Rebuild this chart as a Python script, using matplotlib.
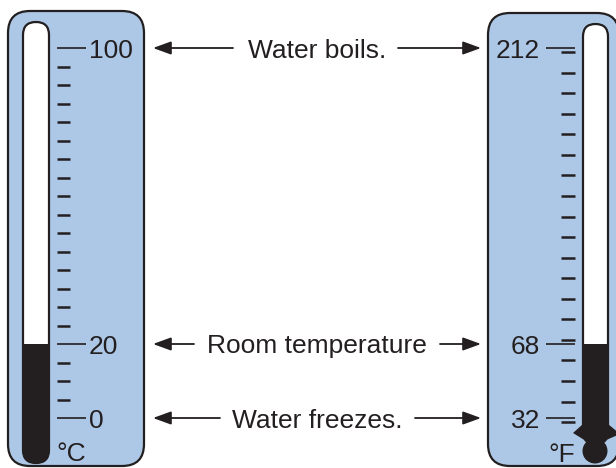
import matplotlib
matplotlib.use("Agg")
import matplotlib.pyplot as plt
from matplotlib.patches import FancyBboxPatch, Polygon, Circle
from matplotlib.transforms import offset_copy

plt.rcParams['font.family'] = ['Liberation Sans', 'DejaVu Sans']

# ---- data ----
celsius_major = [0, 20, 100]
celsius_minor = [t for t in range(0, 101, 5) if t not in (0, 20, 100)]
fahrenheit_major = [32, 68, 212]
fahrenheit_minor = list(range(30, 211, 10))
reading_c = 20
reading_f = 68
event_labels = ["Water boils.", "Room temperature", "Water freezes."]
event_celsius = [100, 20, 0]
unit_c = "°C"
unit_f = "°F"


def f_to_c(f):
    return (f - 32) * 5.0 / 9.0


BLUE = '#adc8e6'
INK = '#231f20'

fig = plt.figure(figsize=(6.16, 4.68), dpi=100)
ax_px = fig.add_axes([0, 0, 1, 1])
ax_px.set_xlim(0, 616)
ax_px.set_ylim(468, 0)
ax_px.set_visible(False)
P = ax_px.transData

ax = fig.add_axes([0, 0, 1, 1])
ax.set_xlim(0, 616)
# 0 degC sits at 418 px from the top, 3.7 px per degree
ax.set_ylim((418 - 468) / 3.7, 418 / 3.7)
ax.axis('off')
ax.patch.set_alpha(0)

# panels
for (x0, y0, w, h) in [(8, 11, 136, 455), (488, 13, 131, 453)]:
    ax.add_patch(FancyBboxPatch((x0, y0), w, h, boxstyle="round,pad=0,rounding_size=22",
                                transform=P, facecolor=BLUE, edgecolor=INK, lw=1.6, zorder=1))

# tubes
tube_c = FancyBboxPatch((23, 22), 26, 441, boxstyle="round,pad=0,rounding_size=13",
                        transform=P, facecolor='white', edgecolor='none', zorder=2)
tube_f = FancyBboxPatch((583, 24), 25, 420, boxstyle="round,pad=0,rounding_size=12.5",
                        transform=P, facecolor='white', edgecolor='none', zorder=2)
ax.add_patch(tube_c)
ax.add_patch(tube_f)

# mercury columns (data coordinates)
bc = ax.bar(36, reading_c - (-30), bottom=-30, width=24.5, color=INK, zorder=3)
for b in bc:
    b.set_clip_path(tube_c)
bf = ax.bar(595.5, f_to_c(reading_f) - (-30), bottom=-30, width=23.5, color=INK, zorder=3)
for b in bf:
    b.set_clip_path(tube_f)

# tube outlines
for t in [tube_c, tube_f]:
    o = FancyBboxPatch(t.get_x() and (t.get_x(), t.get_y()) or (0, 0), t.get_width(), t.get_height(),
                       boxstyle=t.get_boxstyle(), transform=P, facecolor='none',
                       edgecolor=INK, lw=1.6, zorder=4)
    ax.add_patch(o)

# bulb of F thermometer
ax.add_patch(Polygon([(583, 424), (573, 433), (586, 441), (604, 441), (620, 434), (608, 424)],
                     closed=True, transform=P, facecolor=INK, edgecolor='none', zorder=5))
ax.add_patch(Circle((595, 451), 12.5, transform=P, facecolor=INK, edgecolor='none', zorder=5))

# Celsius scale
ax.hlines(celsius_minor, 57, 70, color=INK, lw=1.8, zorder=6)
ax.hlines(celsius_major, 57, 86, color=INK, lw=1.2, zorder=6)
lab_tr = offset_copy(ax.transData, fig=fig, y=-9.5, units='dots')
for t in celsius_major:
    ax.text(89, t, str(t), transform=lab_tr, ha='left', va='baseline',
            fontsize=19, color=INK, zorder=7)

# Fahrenheit scale
ax.hlines([f_to_c(f) for f in fahrenheit_minor], 561, 575, color=INK, lw=1.8, zorder=6)
ax.hlines([f_to_c(f) for f in fahrenheit_major], 546, 575, color=INK, lw=1.2, zorder=6)
for f in fahrenheit_major:
    ax.text(540, f_to_c(f), str(f), transform=lab_tr, ha='right', va='baseline',
            fontsize=19, color=INK, zorder=7)

# unit labels
ax.text(56, 461, unit_c, transform=P, ha='left', va='baseline', fontsize=19, color=INK, zorder=7)
ax.text(575, 462, unit_f, transform=P, ha='right', va='baseline', fontsize=19, color=INK, zorder=7)

# event annotations
arrow_ends = {
    "Water boils.": (233, 398),
    "Room temperature": (194, 440),
    "Water freezes.": (220, 415),
}
ap = dict(arrowstyle='-|>,head_length=0.55,head_width=0.2', color=INK, lw=1.3,
          shrinkA=0, shrinkB=0, mutation_scale=20)
for lab, c in zip(event_labels, event_celsius):
    l_end, r_start = arrow_ends[lab]
    ax.text(317, c, lab, transform=lab_tr, ha='center', va='baseline', fontsize=19, color=INK)
    ax.annotate('', xy=(153, c), xytext=(l_end, c), arrowprops=ap)
    ax.annotate('', xy=(481, c), xytext=(r_start, c), arrowprops=ap)

fig.savefig('out.png', dpi=100)
